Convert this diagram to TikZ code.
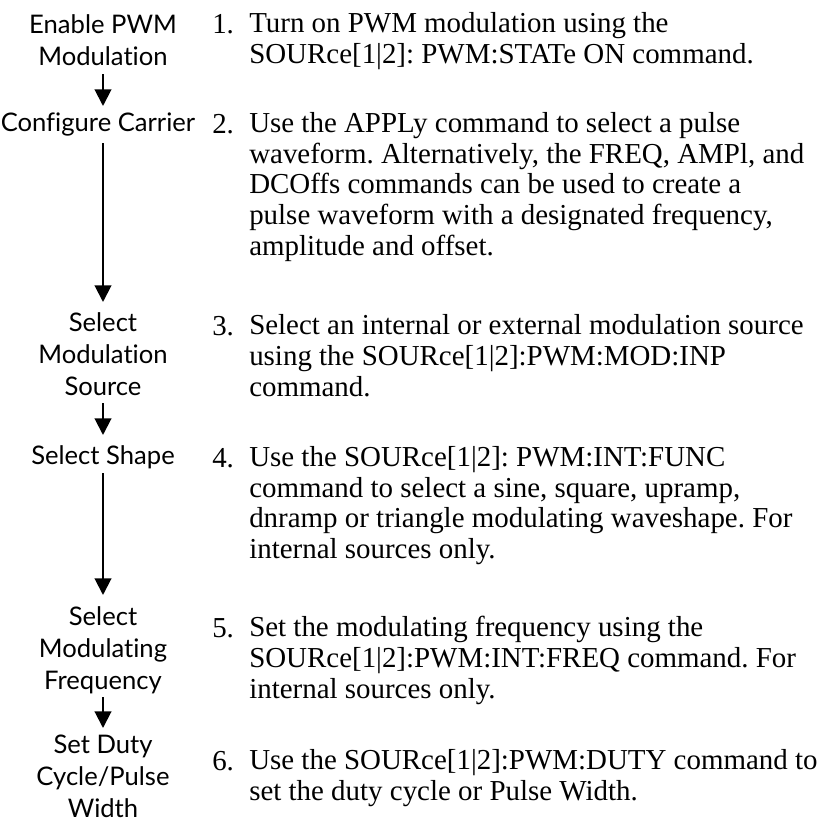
\documentclass[tikz,border=0pt]{standalone}
\usepackage{fontspec}
\setmainfont{Liberation Serif}
\newfontfamily\labelfont[Ligatures=NoCommon]{Lato}
\usetikzlibrary{arrows.meta}
\tikzset{
  lbl/.style={anchor=base, align=center, inner sep=0pt,
    font={\labelfont\fontsize{19.2}{24}\selectfont}},
  num/.style={anchor=base west, inner sep=0pt,
    font={\frenchspacing\fontsize{21.7}{22.9}\selectfont}},
  desc/.style={anchor=base west, align=left, inner sep=0pt,
    font={\frenchspacing\fontsize{21.7}{22.9}\selectfont}},
  arr/.style={line width=1.5pt, -{Triangle[width=12.5pt,length=12.5pt]}}
}
\begin{document}
\begin{tikzpicture}[x=0.75pt,y=-0.75pt]
\useasboundingbox (0,0) rectangle (817,821);
% left column labels (anchored at the baseline of their last line)
\node[lbl] (L1) at (103,65) {Enable PWM\\Modulation};
\node[lbl] (L2) at (98,131) {Configure Carrier};
\node[lbl] (L3) at (103,395) {Select\\Modulation\\Source};
\node[lbl] (L4) at (103,464) {Select Shape};
\node[lbl] (L5) at (103,689) {Select\\Modulating\\Frequency};
\node[lbl] (L6) at (103,817) {Set Duty\\Cycle/Pulse\\Width};
% arrow end points
\coordinate (a1s) at (103,74);  \coordinate (a1e) at (103,106);
\coordinate (a2s) at (103,143); \coordinate (a2e) at (103,302);
\coordinate (a3s) at (103,403); \coordinate (a3e) at (103,435);
\coordinate (a4s) at (103,473); \coordinate (a4e) at (103,595);
\coordinate (a5s) at (103,697); \coordinate (a5e) at (103,728);
\draw[arr] (a1s) -- (a1e);
\draw[arr] (a2s) -- (a2e);
\draw[arr] (a3s) -- (a3e);
\draw[arr] (a4s) -- (a4e);
\draw[arr] (a5s) -- (a5e);
% right column (text nodes anchored at the baseline of their last line)
\node[num] (n1) at (212,33) {1.};
\node[desc] (t1) at (249,63.5) {Turn on PWM modulation using the\\SOURce[1|2]: PWM:STATe ON command.};
\node[num] (n2) at (212,133) {2.};
\node[desc] (t2) at (249,255) {Use the APPLy command to select a pulse\\waveform. Alternatively, the FREQ, AMPl, and\\DCOffs commands can be used to create a\\pulse waveform with a designated frequency,\\amplitude and offset.};
\node[num] (n3) at (212,335) {3.};
\node[desc] (t3) at (249,396) {Select an internal or external modulation source\\using the SOURce[1|2]:PWM:MOD:INP\\command.};
\node[num] (n4) at (212,467) {4.};
\node[desc] (t4) at (249,558.5) {Use the SOURce[1|2]: PWM:INT:FUNC\\command to select a sine, square, upramp,\\dnramp or triangle modulating waveshape. For\\internal sources only.};
\node[num] (n5) at (212,637) {5.};
\node[desc] (t5) at (249,698) {Set the modulating frequency using the\\SOURce[1|2]:PWM:INT:FREQ command. For\\internal sources only.};
\node[num] (n6) at (212,770) {6.};
\node[desc] (t6) at (249,800.5) {Use the SOURce[1|2]:PWM:DUTY command to\\set the duty cycle or Pulse Width.};
\end{tikzpicture}
\end{document}
